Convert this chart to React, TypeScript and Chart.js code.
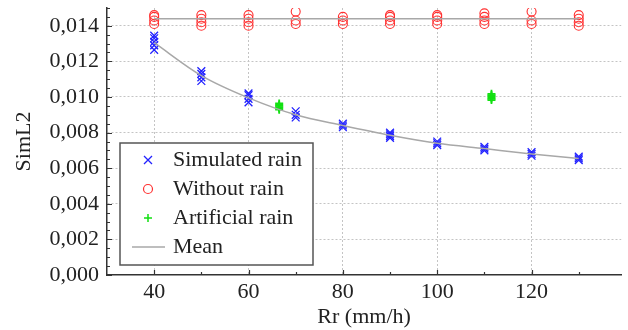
import React, { useEffect, useRef } from 'react';
import { Chart, registerables } from 'chart.js';

Chart.register(...registerables);

// ---- data ----
const rainRates = [40, 50, 60, 70, 80, 90, 100, 110, 120, 130];

const simulatedRain = [
  [0.01265, 0.0129, 0.0131, 0.0133, 0.01345],
  [0.0109, 0.0111, 0.0113, 0.01145],
  [0.0097, 0.0099, 0.0101, 0.0102],
  [0.00885, 0.009, 0.0092],
  [0.0083, 0.0084, 0.0085],
  [0.0077, 0.0078, 0.0079, 0.008],
  [0.0073, 0.0074, 0.0075],
  [0.007, 0.0071, 0.0072],
  [0.0067, 0.0068, 0.0069],
  [0.00645, 0.00655, 0.00665],
];

const withoutRain = [
  [0.0141, 0.0143, 0.0145, 0.0146],
  [0.014, 0.0142, 0.0144, 0.0146],
  [0.014, 0.0142, 0.0144, 0.0146],
  [0.0141, 0.0143, 0.0148],
  [0.0141, 0.0143, 0.0145],
  [0.0141, 0.0143, 0.0145, 0.0146],
  [0.0141, 0.0143, 0.0145, 0.0146],
  [0.0141, 0.0143, 0.0145, 0.0147],
  [0.0141, 0.0143, 0.0148],
  [0.014, 0.0142, 0.0144, 0.0146],
];

const artificialX = [66.5, 66.5, 66.5, 66.5, 66.5, 66.5, 111.5, 111.5, 111.5, 111.5, 111.5, 111.5];
const artificialY = [0.00929, 0.00936, 0.00943, 0.0095, 0.00957, 0.00964, 0.00983, 0.0099, 0.00997, 0.01004, 0.01011, 0.01018];

const simulatedMean = [0.01305, 0.0112, 0.00995, 0.009, 0.0084, 0.00785, 0.0074, 0.0071, 0.0068, 0.00655];
const withoutMean = 0.0144;

const xTicks = [40, 50, 60, 70, 80, 90, 100, 110, 120, 130];
const xLabels = [40, 60, 80, 100, 120];
const yMajor = [0, 0.002, 0.004, 0.006, 0.008, 0.01, 0.012, 0.014];
const yLabels = ['0,000', '0,002', '0,004', '0,006', '0,008', '0,010', '0,012', '0,014'];
const yMinorStep = 0.0005;
const yMax = 0.015;

const legendItems = ['Simulated rain', 'Without rain', 'Artificial rain', 'Mean'];

// ---- styles ----
const FONT = 'Liberation Serif';
const BLUE = '#2222ff';
const RED = '#ff3030';
const GREEN = '#12e012';
const GRAY = '#a8a8a8';
const TEXT = '#222222';

const isMajorY = (v: number) => Math.round(v / yMinorStep) % 4 === 0;

export default function App() {
  const ref = useRef<HTMLCanvasElement | null>(null);

  useEffect(() => {
    document.body.style.margin = '0';
    const canvas = ref.current;
    if (!canvas) return;

    const simPoints: { x: number; y: number }[] = [];
    simulatedRain.forEach((vals, i) => vals.forEach((v) => simPoints.push({ x: rainRates[i], y: v })));
    const woPoints: { x: number; y: number }[] = [];
    withoutRain.forEach((vals, i) => vals.forEach((v) => woPoints.push({ x: rainRates[i], y: v })));
    const artPoints = artificialX.map((x, i) => ({ x, y: artificialY[i] }));
    const meanPoints = rainRates.map((x, i) => ({ x, y: simulatedMean[i] }));
    const woMeanPoints = [
      { x: rainRates[0], y: withoutMean },
      { x: rainRates[rainRates.length - 1], y: withoutMean },
    ];

    const yTickValues: number[] = [];
    for (let k = 0; k * yMinorStep <= yMax + 1e-9; k++) yTickValues.push(+(k * yMinorStep).toFixed(5));

    const innerTicks = {
      id: 'innerTicks',
      afterDraw(chart: any) {
        const { ctx } = chart;
        const xs = chart.scales.x;
        const ys = chart.scales.y;
        ctx.save();
        ctx.strokeStyle = '#333';
        ctx.lineWidth = 1.2;
        ctx.beginPath();
        xTicks.forEach((v) => {
          const px = Math.round(xs.getPixelForValue(v)) + 0.5;
          const len = xLabels.includes(v) ? 5 : 3;
          ctx.moveTo(px, ys.bottom);
          ctx.lineTo(px, ys.bottom - len);
        });
        yTickValues.forEach((v) => {
          const py = Math.round(ys.getPixelForValue(v)) + 0.5;
          const len = isMajorY(v) ? 5 : 3;
          ctx.moveTo(xs.left, py);
          ctx.lineTo(xs.left + len, py);
        });
        ctx.stroke();
        ctx.restore();
      },
    };

    const boxLegend = {
      id: 'boxLegend',
      afterDraw(chart: any) {
        const { ctx } = chart;
        const bx = 120, by = 143, bw = 193, bh = 122;
        ctx.save();
        ctx.fillStyle = '#ffffff';
        ctx.fillRect(bx, by, bw, bh);
        ctx.strokeStyle = '#555';
        ctx.lineWidth = 1.5;
        ctx.strokeRect(bx, by, bw, bh);
        const rows = [160, 189, 218, 247];
        const mx = 148;
        ctx.strokeStyle = BLUE;
        ctx.lineWidth = 1.3;
        ctx.beginPath();
        ctx.moveTo(mx - 4, rows[0] - 4);
        ctx.lineTo(mx + 4, rows[0] + 4);
        ctx.moveTo(mx + 4, rows[0] - 4);
        ctx.lineTo(mx - 4, rows[0] + 4);
        ctx.stroke();
        ctx.strokeStyle = RED;
        ctx.lineWidth = 1.2;
        ctx.beginPath();
        ctx.arc(mx, rows[1], 4.5, 0, Math.PI * 2);
        ctx.stroke();
        ctx.strokeStyle = GREEN;
        ctx.lineWidth = 1.5;
        ctx.beginPath();
        ctx.moveTo(mx - 4, rows[2]);
        ctx.lineTo(mx + 4, rows[2]);
        ctx.moveTo(mx, rows[2] - 4);
        ctx.lineTo(mx, rows[2] + 4);
        ctx.stroke();
        ctx.strokeStyle = GRAY;
        ctx.lineWidth = 1.5;
        ctx.beginPath();
        ctx.moveTo(132, rows[3]);
        ctx.lineTo(165, rows[3]);
        ctx.stroke();
        ctx.fillStyle = TEXT;
        ctx.font = `22px "${FONT}"`;
        ctx.textBaseline = 'middle';
        ctx.textAlign = 'left';
        legendItems.forEach((t, i) => ctx.fillText(t, 173, rows[i]));
        ctx.restore();
      },
    };

    const chart = new Chart(canvas, {
      type: 'scatter',
      data: {
        datasets: [
          {
            label: 'Mean',
            data: meanPoints,
            showLine: true,
            borderColor: GRAY,
            borderWidth: 1.5,
            pointRadius: 0,
            cubicInterpolationMode: 'monotone',
          } as any,
          {
            label: 'Mean without',
            data: woMeanPoints,
            showLine: true,
            borderColor: GRAY,
            borderWidth: 1.5,
            pointRadius: 0,
          } as any,
          {
            label: 'Simulated rain',
            data: simPoints,
            pointStyle: 'crossRot',
            pointRadius: 5.5,
            borderColor: BLUE,
            backgroundColor: BLUE,
            pointBorderWidth: 1.3,
          },
          {
            label: 'Without rain',
            data: woPoints,
            pointStyle: 'circle',
            pointRadius: 4.5,
            borderColor: RED,
            backgroundColor: 'rgba(0,0,0,0)',
            pointBorderWidth: 1.1,
          },
          {
            label: 'Artificial rain',
            data: artPoints,
            pointStyle: 'cross',
            pointRadius: 4,
            borderColor: GREEN,
            backgroundColor: GREEN,
            pointBorderWidth: 1.8,
          },
        ],
      },
      options: {
        responsive: false,
        animation: false,
        layout: { padding: { top: 8, left: 0, right: 0, bottom: 0 } },
        plugins: { legend: { display: false }, tooltip: { enabled: false } },
        scales: {
          x: {
            type: 'linear',
            min: 30,
            max: 139,
            afterBuildTicks: (s: any) => {
              s.ticks = xTicks.map((v) => ({ value: v }));
            },
            afterFit: (s: any) => {
              s.height = 55;
              s.paddingLeft = 0;
              s.paddingRight = 0;
            },
            ticks: {
              autoSkip: false,
              maxRotation: 0,
              padding: 4,
              color: TEXT,
              font: { family: FONT, size: 22 },
              callback: (v: any) => (xLabels.includes(Number(v)) ? String(v) : ''),
            },
            grid: {
              drawTicks: false,
              lineWidth: 1,
              color: (c: any) => (c.tick && xLabels.includes(c.tick.value) ? '#c4c4c4' : 'rgba(0,0,0,0)'),
            },
            border: { display: true, color: '#333', width: 1.5, dash: [2, 2] },
            title: { display: true, text: 'Rr (mm/h)', color: TEXT, font: { family: FONT, size: 22 }, padding: 0 },
          },
          y: {
            type: 'linear',
            min: 0,
            max: yMax,
            afterBuildTicks: (s: any) => {
              s.ticks = yTickValues.map((v) => ({ value: v }));
            },
            afterFit: (s: any) => {
              s.width = 107;
              s.paddingTop = 0;
              s.paddingBottom = 0;
            },
            ticks: {
              autoSkip: false,
              padding: 8,
              color: TEXT,
              font: { family: FONT, size: 22 },
              callback: (v: any) => {
                const n = Number(v);
                if (!isMajorY(n)) return '';
                const idx = yMajor.findIndex((m) => Math.abs(m - n) < 1e-7);
                return idx >= 0 ? yLabels[idx] : '';
              },
            },
            grid: {
              drawTicks: false,
              lineWidth: 1,
              color: (c: any) => (c.tick && c.tick.value > 0 && isMajorY(c.tick.value) && c.tick.value < yMax - 1e-7 ? '#c4c4c4' : 'rgba(0,0,0,0)'),
            },
            border: { display: true, color: '#333', width: 1.5, dash: [2, 2] },
            title: { display: true, text: 'SimL2', color: TEXT, font: { family: FONT, size: 22 }, padding: { top: 11, bottom: 0 } },
          },
        },
      },
      plugins: [innerTicks, boxLegend],
    });

    return () => chart.destroy();
  }, []);

  return <canvas ref={ref} width={628} height={330} style={{ display: 'block', width: 628, height: 330 }} />;
}
